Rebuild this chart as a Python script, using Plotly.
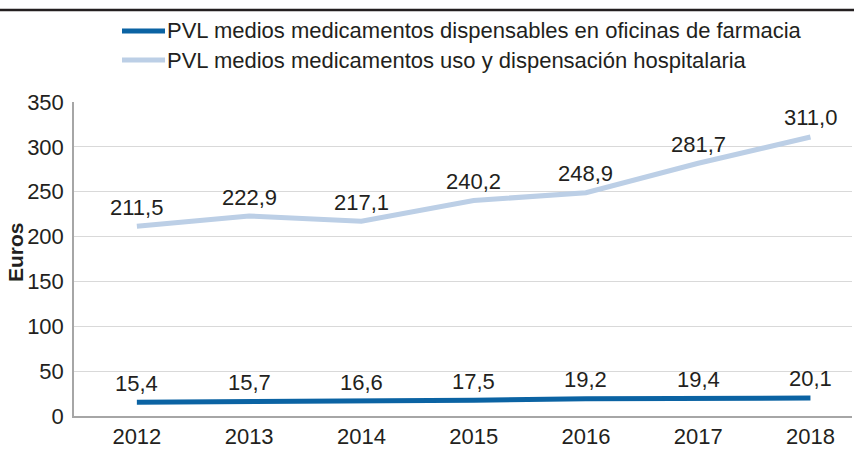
import plotly.graph_objects as go

years = ["2012", "2013", "2014", "2015", "2016", "2017", "2018"]
farmacia = [15.4, 15.7, 16.6, 17.5, 19.2, 19.4, 20.1]
hospital = [211.5, 222.9, 217.1, 240.2, 248.9, 281.7, 311.0]
names = ["PVL medios medicamentos dispensables en oficinas de farmacia",
         "PVL medios medicamentos uso y dispensación hospitalaria"]
colors = ["#0b63a3", "#bccfe6"]
series = [farmacia, hospital]

FONT = "Liberation Sans, Arial, Helvetica, sans-serif"
TXT = "#231f20"
FS = 22

W, H = 854, 452
L, R, T, B = 74, 2, 102, 36
pw, ph = W - L - R, H - T - B

def px(x):
    return (x - L) / pw

def py(y):
    return (H - B - y) / ph

fig = go.Figure()
annotations = []
shapes = []
for name, vals, col in zip(names, series, colors):
    fig.add_trace(go.Scatter(x=years, y=vals, mode="lines", name=name,
                             line=dict(color=col, width=5), showlegend=False,
                             hoverinfo="x+y"))
    for i, yv in enumerate(vals):
        annotations.append(dict(x=i, y=yv, xref="x", yref="y",
                                text=f"{yv:.1f}".replace(".", ","),
                                showarrow=False, yshift=19, yanchor="middle",
                                font=dict(family=FONT, size=FS, color=TXT)))

# legend (manual)
for i, (name, col) in enumerate(zip(names, colors)):
    yy = py(31 + i * 29)
    shapes.append(dict(type="line", xref="paper", yref="paper",
                       x0=px(122), x1=px(165), y0=yy, y1=yy,
                       line=dict(color=col, width=5)))
    annotations.append(dict(x=px(165), y=yy, xref="paper", yref="paper",
                            text=name, showarrow=False, xanchor="left",
                            yanchor="middle",
                            font=dict(family=FONT, size=FS, color=TXT)))

# top rule
shapes.append(dict(type="line", xref="paper", yref="paper",
                   x0=px(0), x1=px(854), y0=py(10), y1=py(10),
                   line=dict(color="#231f20", width=2.5)))

annotations.append(dict(x=px(15), y=py(252), xref="paper", yref="paper",
                        text="<b>Euros</b>", textangle=-90, showarrow=False,
                        xanchor="center", yanchor="middle",
                        font=dict(family=FONT, size=21, color=TXT)))

fig.update_layout(
    width=W, height=H,
    margin=dict(l=L, r=R, t=T, b=B),
    paper_bgcolor="white", plot_bgcolor="white",
    font=dict(family=FONT, size=FS, color=TXT),
    annotations=annotations, shapes=shapes,
    xaxis=dict(type="category", range=[-0.56, 6.37], showgrid=False,
               showline=True, linecolor="#a6a6a6", linewidth=1.5,
               ticks="", tickfont=dict(size=FS, color=TXT)),
    yaxis=dict(range=[0, 350], tickvals=[0, 50, 100, 150, 200, 250, 300, 350],
               showgrid=True, gridcolor="#d9d9d9", gridwidth=1,
               showline=True, linecolor="#a6a6a6", linewidth=1.5,
               zeroline=False, ticks="", ticklabelstandoff=4,
               tickfont=dict(size=FS, color=TXT)),
)

fig.write_html("out.html", config={"displayModeBar": False},
               post_script="document.body.style.margin='0';document.body.style.overflow='hidden';")
